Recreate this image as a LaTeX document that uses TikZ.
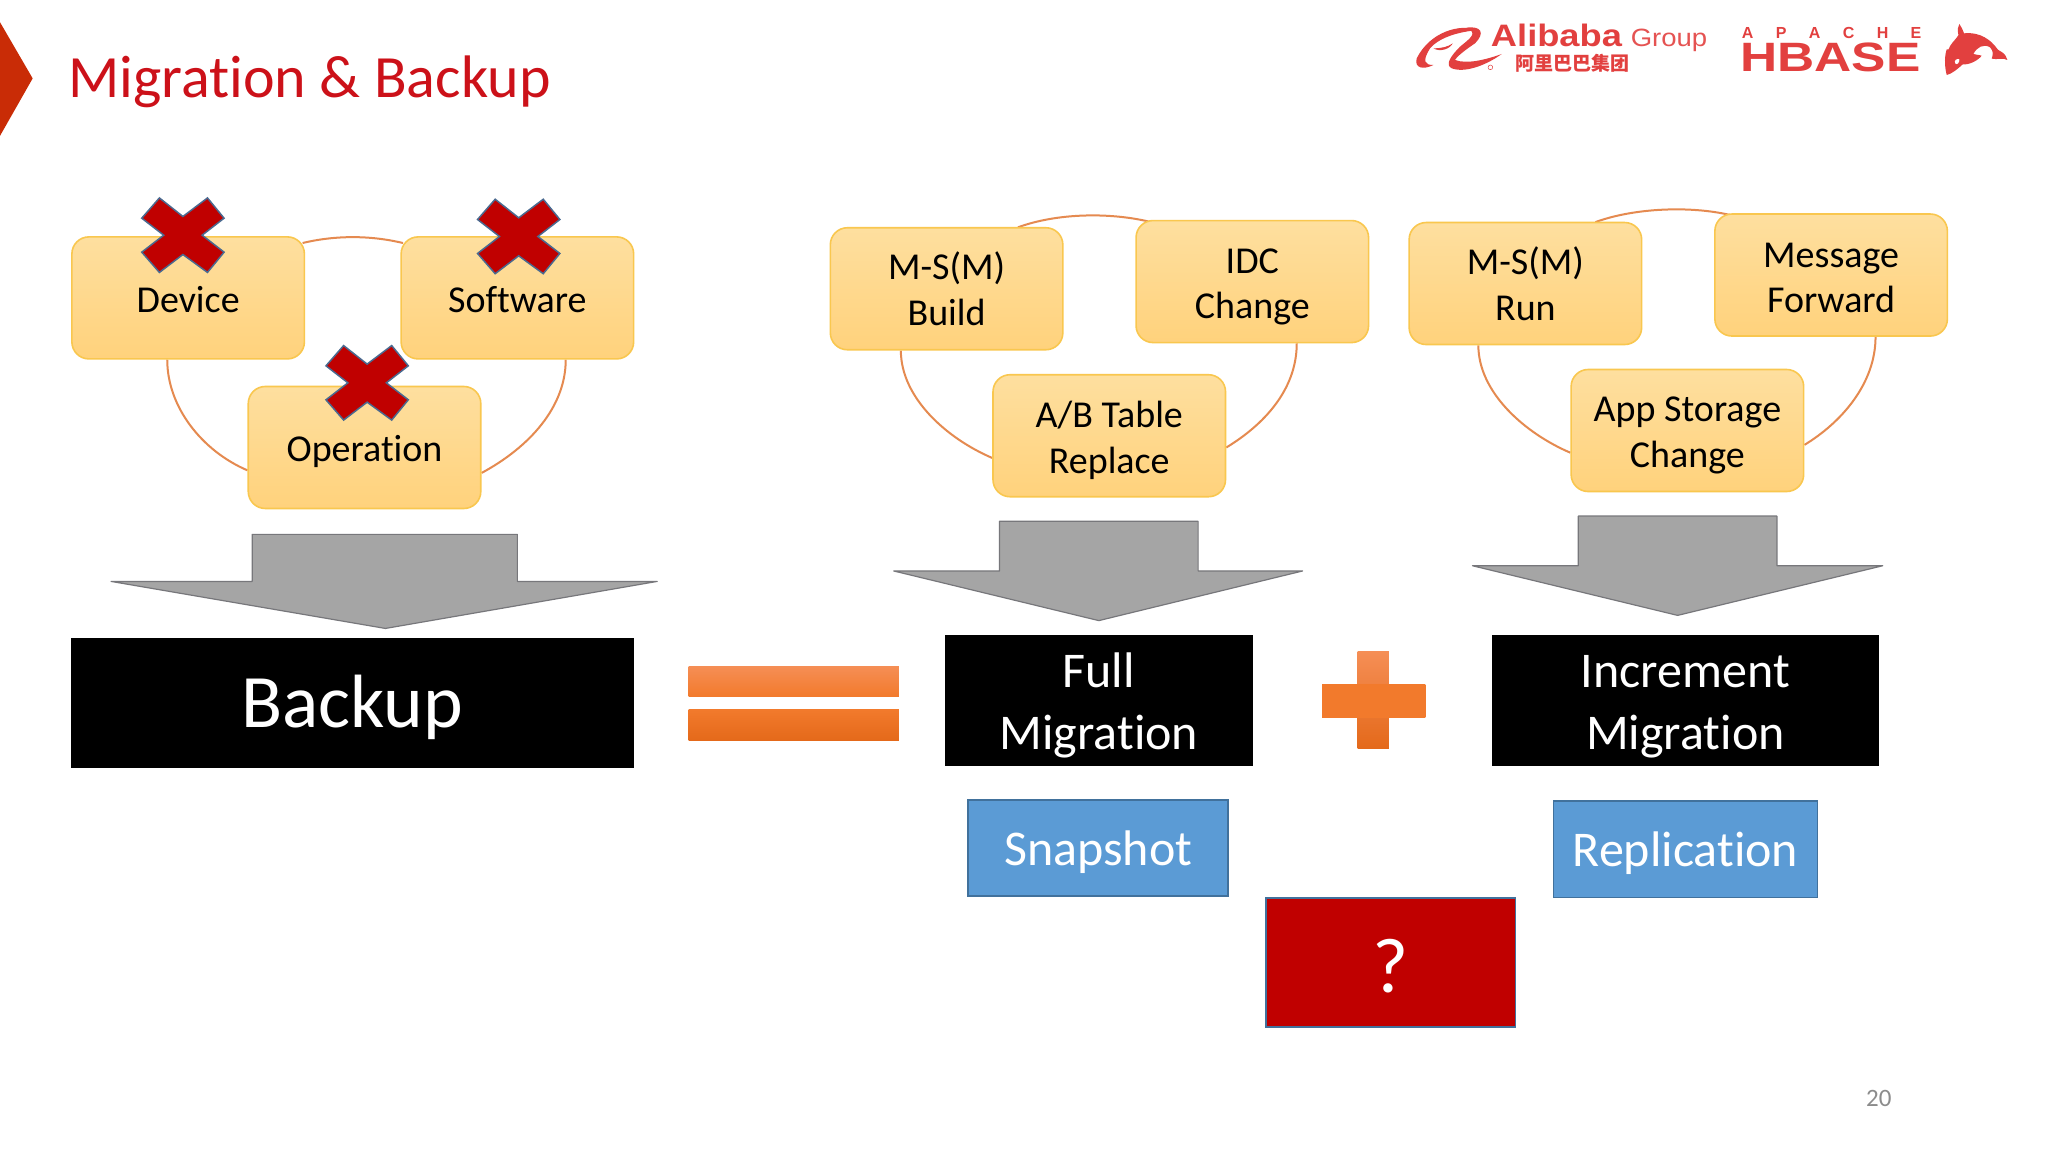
\documentclass[tikz,border=0pt]{standalone}
\usepackage{fontspec}
\setmainfont[Ligatures=NoCommon]{Carlito}
\newfontfamily\lgfont{Liberation Sans}
\newfontfamily\cjkf{Noto Sans CJK SC}
\usetikzlibrary{calc,backgrounds}
\definecolor{boxline}{HTML}{F9C74F}
\definecolor{boxtop}{HTML}{FEDF9F}
\definecolor{boxbot}{HTML}{FFD27C}
\definecolor{arcc}{HTML}{E58A50}
\definecolor{greyf}{HTML}{A5A5A5}
\definecolor{greyl}{HTML}{77777B}
\definecolor{xred}{HTML}{C00000}
\definecolor{xline}{HTML}{4A6A90}
\definecolor{blue1}{HTML}{5B9BD5}
\definecolor{blue2}{HTML}{41719C}
\definecolor{titlered}{HTML}{CC1119}
\definecolor{logored}{HTML}{E2403F}
\definecolor{chev}{HTML}{C92C06}
\definecolor{F1}{HTML}{F58E55}
\definecolor{F2}{HTML}{F27A2C}
\definecolor{F3}{HTML}{E4691A}
\newcommand{\tl}[1]{\rule{0pt}{\dimexpr0.75em+#1\relax}}
\tikzset{
 x=1.3065pt,y=-1.3065pt,
 fs/.style={font=\fontsize{#1}{#1}\selectfont},
 tdown/.style={execute at begin node={\rule{0pt}{\dimexpr0.75em+#1\relax}}},
 ybox/.style={draw=boxline,line width=1.6pt,rounded corners=17pt,top color=boxtop,bottom color=boxbot,text=black,align=center,minimum width=232.5pt,minimum height=122pt,inner sep=0pt,font=\fontsize{38}{45.5}\selectfont},
 link/.style={draw=arcc,line width=2pt},
 garrow/.style={fill=greyf,draw=greyl,line width=1.2pt,line join=round},
 bbox/.style={fill=black,text=white,align=center,inner sep=0pt,minimum height=130.5pt,font=\fontsize{50}{62}\selectfont},
 bluebox/.style={fill=blue1,draw=blue2,line width=1.6pt,text=white,inner sep=0pt,minimum height=96.5pt,font=\fontsize{50}{57}\selectfont},
 logoscope/.style={x=0.3333pt,y=-0.3333pt},
}
\newcommand{\redx}[2]{\node[inner sep=0pt] (#1) at (#2) {};
 \draw[fill=xred,draw=xline,line width=1.5pt,shift={(#2)}] (-18,-28.5)--(0,-14.3)--(18.8,-28.5)--(31.5,-13)--(14.7,0)--(31.5,13)--(18.8,28.5)--(0,14.8)--(-18,28.5)--(-31.5,13)--(-14.7,0)--(-31.5,-13)--cycle;}
\begin{document}
\begin{tikzpicture}
\useasboundingbox (0,0) rectangle (1567.5,881.7);
% header
\fill[chev] (0,17)--(25,60)--(0,104)--cycle;
\node[anchor=base west,inner sep=0pt,text=titlered,fs=60] (title) at (52,75) {Migration \& Backup};
\node[text=black!45,fs=25,inner sep=0pt] (pageno) at (1438,841) {20};
% logos
\node[anchor=base west,inner sep=0pt,text=logored,font=\lgfont\bfseries\fontsize{31}{31}\selectfont] (ali) at (1141,35.7) {\scalebox{1.17}[1]{Alibaba}};
\node[anchor=base west,inner sep=0pt,text=logored!90!white,font=\lgfont\fontsize{25}{25}\selectfont] (grp) at (1248,35.7) {\scalebox{1.1}[1]{Group}};
\node[anchor=base west,inner sep=0pt,text=logored,font=\cjkf\bfseries\fontsize{19}{19}\selectfont] (cn) at (1160,54) {阿里巴巴集团};
\begin{scope}[shift={(1410pt,-15pt)},logoscope]
\fill[logored] (205,45) .. controls (150,25) and (60,50) .. (20,130) .. controls (12,160) and (40,165) .. (70,150) .. controls (45,150) and (35,140) .. (60,100) .. controls (90,65) and (150,50) .. (205,45) -- cycle;
\fill[logored] (170,38) .. controls (215,32) and (225,55) .. (195,85) .. controls (165,105) and (140,125) .. (135,135) .. controls (170,148) and (225,135) .. (275,117) .. controls (230,150) and (165,175) .. (125,160) .. controls (105,150) and (120,125) .. (150,95) .. controls (180,70) and (205,55) .. (170,38) -- cycle;
\fill[logored] (70,100) .. controls (95,100) and (115,95) .. (128,85) .. controls (120,102) and (90,112) .. (70,100) -- cycle;
\draw[logored,line width=.5pt] (241,157) circle (7);
\end{scope}
\node[anchor=base west,inner sep=0pt,text=logored,font=\lgfont\bfseries\fontsize{16}{16}\selectfont] (apache) at (1333,29.5) {A\hspace{22.4pt}P\hspace{22.4pt}A\hspace{22.4pt}C\hspace{22.4pt}H\hspace{22.4pt}E};
\node[anchor=base west,inner sep=0pt,text=logored,font=\lgfont\bfseries\fontsize{41}{41}\selectfont] (hbase) at (1332,55) {\scalebox{1.255}[1.0]{HBASE}};
\begin{scope}[shift={(1940pt,-10pt)},logoscope]
\fill[logored] (20,195) .. controls (12,165) and (14,135) .. (20,118) .. controls (24,122) and (26,118) .. (30,108) .. controls (38,95) and (50,85) .. (55,75) .. controls (52,60) and (52,50) .. (58,42) .. controls (64,50) and (68,60) .. (72,70) .. controls (105,66) and (140,78) .. (165,108) .. controls (172,118) and (178,124) .. (185,126) .. controls (195,132) and (200,142) .. (202,150) .. controls (190,142) and (170,150) .. (155,146) .. controls (158,135) and (162,125) .. (150,112) .. controls (130,100) and (110,112) .. (100,132) .. controls (112,135) and (120,135) .. (125,137) .. controls (115,150) and (90,165) .. (68,163) .. controls (55,175) and (35,192) .. (20,195) -- cycle;
\fill[white] (45,160) .. controls (42,150) and (50,145) .. (58,148) .. controls (58,158) and (52,166) .. (45,160) -- cycle;
\end{scope}
% group 1
\node[ybox,tdown=0.6pt] (dev) at (144,228) {Device};
\node[ybox,tdown=0.6pt] (soft) at (396,228) {Software};
\node[ybox,tdown=5.8pt] (oper) at (279,342.5) {Operation};
% group 2
\node[ybox] (build) at (724.5,221) {M-S(M)\\Build};
\node[ybox] (idc) at (958.5,215.5) {\tl{7pt}IDC\\Change};
\node[ybox] (ab) at (849,333.5) {\tl{7pt}A/B Table\\Replace};
% group 3
\node[ybox] (run) at (1167.5,217) {M-S(M)\\Run};
\node[ybox] (msg) at (1401.5,210.5) {\tl{2pt}Message\\Forward};
\node[ybox] (app) at (1291.5,329.5) {\tl{6.5pt}App Storage\\Change};
\begin{scope}[on background layer]
\fill[white] (0,0) rectangle (1567.5,881.7);
\draw[link] ($(dev.east)+(-2,-42)$) .. controls +(25,-6) and +(-25,-6) .. ($(soft.west)+(2,-42)$);
\draw[link] ($(dev.south)+(-16,0)$) .. controls +(0,36) and +(-35,-15) .. ($(oper.west)+(0,17.5)$);
\draw[link] ($(soft.south)+(37,0)$) .. controls +(0,36) and +(37,-20) .. ($(oper.east)+(0,19.5)$);
\draw[link] ($(build.east)+(-35,-47)$) .. controls +(30,-11) and +(-30,-7) .. ($(idc.west)+(10,-46)$);
\draw[link] ($(build.south)+(-35,0)$) .. controls +(0,36) and +(-35,-15) .. ($(ab.west)+(0,17)$);
\draw[link] ($(idc.south)+(34,0)$) .. controls +(0,36) and +(28,-17) .. ($(ab.east)+(0,9)$);
\draw[link] ($(run.east)+(-36,-47)$) .. controls +(30,-11) and +(-30,-7) .. ($(msg.west)+(12,-46)$);
\draw[link] ($(run.south)+(-36,0)$) .. controls +(0,36) and +(-35,-15) .. ($(app.west)+(0,17)$);
\draw[link] ($(msg.south)+(34,0)$) .. controls +(0,36) and +(28,-17) .. ($(app.east)+(0,11)$);
\end{scope}
\redx{xa}{140,180}
\redx{xb}{397,181}
\redx{xc}{281,293}
% arrows
\draw[garrow] (193,409)--(396,409)--(396,445)--(503,445)--(295,481)--(85,445)--(193,445)--cycle;
\draw[garrow] (765,399)--(917,399)--(917,437)--(997,437)--(841,475)--(684,437)--(765,437)--cycle;
\draw[garrow] (1208,395)--(1360,395)--(1360,433)--(1441,433)--(1284,471)--(1127,433)--(1208,433)--cycle;
% black boxes
\node[bbox,tdown=4pt,minimum width=563pt,font=\fontsize{75.5}{75.5}\selectfont] (backup) at (269.5,538) {Backup};
\node[bbox,minimum width=308.5pt] (full) at (841,536) {\tl{8pt}Full\\Migration};
\node[bbox,minimum width=386.5pt] (inc) at (1290,536) {\tl{8pt}Increment\\Migration};
% equals and plus
\shade[top color=F1,bottom color=F2] (527,510) rectangle (688,533);
\shade[top color=F2,bottom color=F3] (527,543) rectangle (688,567);
\shade[top color=F1,bottom color=F3] (1039,499) rectangle (1063,573);
\shade[top color=F2,bottom color=F2] (1012,524) rectangle (1091,549);
% blue boxes
\node[bluebox,tdown=5.3pt,minimum width=260pt] (snap) at (840.5,649) {Snapshot};
\node[bluebox,tdown=5.3pt,minimum width=264pt] (repl) at (1290,650) {Replication};
\node[fill=xred,draw=blue2,line width=1.6pt,text=white,inner sep=0pt,tdown=1.6pt,minimum width=249.5pt,minimum height=129pt,font=\fontsize{78}{78}\selectfont] (q) at (1064.5,736.5) {?};
\end{tikzpicture}
\end{document}
